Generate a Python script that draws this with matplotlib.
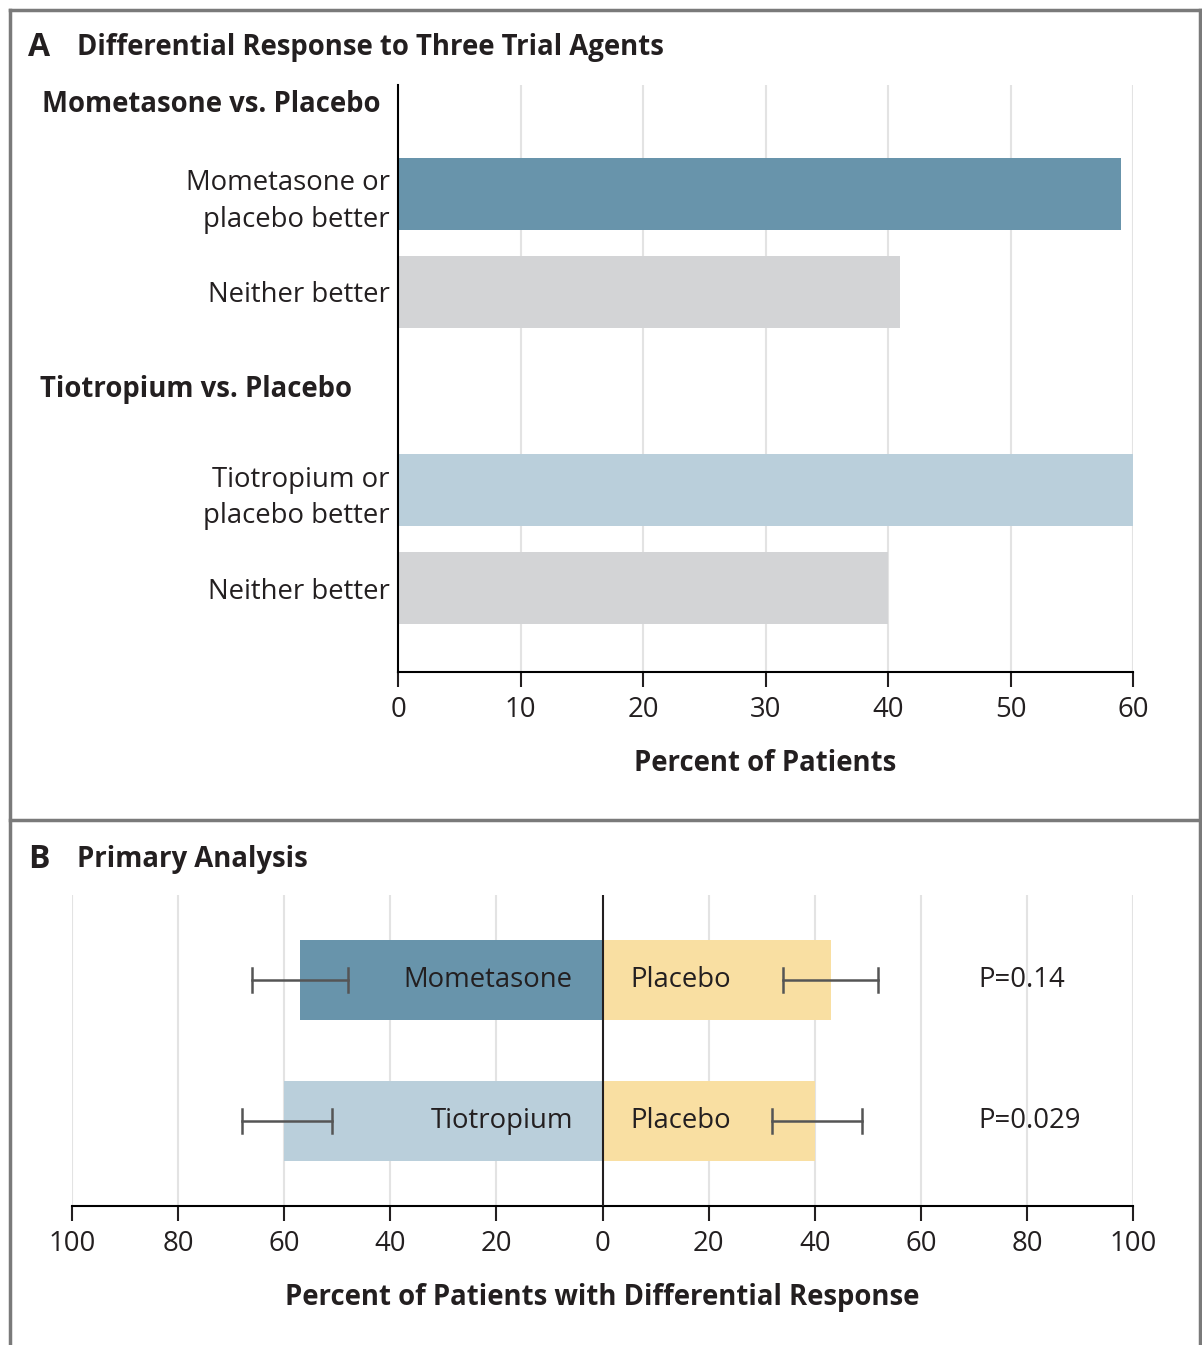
# Two-panel chart: differential response to trial agents (panel A) and primary analysis (panel B)

import matplotlib.pyplot as plt
import matplotlib.transforms as mtransforms
from matplotlib.lines import Line2D

plt.rcParams['font.family'] = ['Open Sans', 'DejaVu Sans']

# ---- data, panel A ----
a_groups = ['Mometasone vs. Placebo', 'Tiotropium vs. Placebo']
a_labels = ['Mometasone or\nplacebo better', 'Neither better',
            'Tiotropium or\nplacebo better', 'Neither better']
a_values = [59, 41, 60, 40]
a_ticks = [0, 10, 20, 30, 40, 50, 60]

# ---- data, panel B ----
b_drugs = ['Mometasone', 'Tiotropium']
b_drug_pct = [57, 60]
b_drug_lo = [48, 51]
b_drug_hi = [66, 68]
b_placebo_pct = [43, 40]
b_placebo_lo = [34, 32]
b_placebo_hi = [52, 49]
b_pvalues = ['P=0.14', 'P=0.029']
b_ticks = [-100, -80, -60, -40, -20, 0, 20, 40, 60, 80, 100]

dark_blue = '#6894ab'
light_blue = '#bacfdb'
grey_bar = '#d3d4d6'
yellow = '#f9dfa2'
grid_col = '#e3e3e3'
text_col = '#231f20'

W, H = 1202, 1345
fig = plt.figure(figsize=(W / 100, H / 100), dpi=100)


def fx(px):
    return px / W


def fy(py):
    return 1 - py / H


# frame round the two panels
frame = '#7a7a7a'
for xs, ys in [([10, 1200], [10, 10]), ([10, 10], [10, 1345]),
               ([1200, 1200], [10, 1345]), ([10, 1200], [820, 820])]:
    fig.add_artist(Line2D([fx(x) for x in xs], [fy(y) for y in ys],
                          color=frame, lw=2.5))

fs = 19.8     # regular text
fsb = 19.8    # bold headings
wb = 'bold'

# ---- panel A ----
axA = fig.add_axes([fx(398), fy(672), fx(1133) - fx(398), fy(85) - fy(672)])
a_pos = [4.878, 3.878, 1.857, 0.857]
a_head_pos = [5.796, 2.878]
a_colors = [dark_blue, grey_bar, light_blue, grey_bar]
axA.barh(a_pos, a_values, height=0.735, color=a_colors, zorder=2)
axA.set_xlim(0, 60)
axA.set_ylim(0, 5.99)
axA.set_xticks(a_ticks)
axA.set_yticks(a_pos)
axA.set_yticklabels(a_labels, fontsize=fs, color=text_col, ha='right',
                    linespacing=1.4)
axA.tick_params(axis='y', length=0, pad=6)
axA.tick_params(axis='x', labelsize=fs, colors=text_col, length=11,
                width=1.5, pad=6)
for t in a_ticks[1:]:
    axA.axvline(t, color=grid_col, lw=1.5, zorder=0)
axA.spines['top'].set_visible(False)
axA.spines['right'].set_visible(False)
axA.spines['left'].set_linewidth(1.5)
axA.spines['bottom'].set_linewidth(1.5)
axA.set_xlabel('Percent of Patients', fontsize=fsb, fontweight=wb,
               color=text_col, labelpad=18)
head_x = [42, 40]
head_tr = mtransforms.blended_transform_factory(fig.transFigure, axA.transData)
for name, yp, hx in zip(a_groups, a_head_pos, head_x):
    axA.text(fx(hx), yp, name, fontsize=fsb, fontweight=wb,
             color=text_col, ha='left', va='center', transform=head_tr)

fig.text(fx(28), fy(47), 'A', fontsize=23, fontweight='bold',
         color=text_col, va='center')
fig.text(fx(77), fy(47), 'Differential Response to Three Trial Agents',
         fontsize=fsb, fontweight=wb, color=text_col, va='center')

# ---- panel B ----
axB = fig.add_axes([fx(72), fy(1206), fx(1133) - fx(72), fy(895) - fy(1206)])
b_pos = [1.603, 0.603]
drug_colors = [dark_blue, light_blue]
for i in range(len(b_drugs)):
    axB.barh(b_pos[i], -b_drug_pct[i], height=0.567, color=drug_colors[i],
             zorder=2)
    axB.barh(b_pos[i], b_placebo_pct[i], height=0.567, color=yellow, zorder=2)
    axB.plot([-b_drug_lo[i], -b_drug_hi[i]], [b_pos[i], b_pos[i]],
             color='#555555', lw=1.8, zorder=3)
    axB.plot([b_placebo_lo[i], b_placebo_hi[i]], [b_pos[i], b_pos[i]],
             color='#555555', lw=1.8, zorder=3)
    for xv in [-b_drug_lo[i], -b_drug_hi[i], b_placebo_lo[i], b_placebo_hi[i]]:
        axB.plot([xv, xv], [b_pos[i] - 0.085, b_pos[i] + 0.085],
                 color='#555555', lw=1.8, zorder=3)
    axB.text(-5.6, b_pos[i], b_drugs[i], fontsize=fs, color=text_col,
             ha='right', va='center', zorder=4)
    axB.text(5.3, b_pos[i], 'Placebo', fontsize=fs, color=text_col,
             ha='left', va='center', zorder=4)
    axB.text(70.8, b_pos[i], b_pvalues[i], fontsize=fs, color=text_col,
             ha='left', va='center')
axB.axvline(0, color='#231f20', lw=1.5, zorder=5)
for t in b_ticks:
    if t != 0:
        axB.axvline(t, color=grid_col, lw=1.5, zorder=0)
axB.set_xlim(-100, 100)
axB.set_ylim(0, 2.206)
axB.set_xticks(b_ticks)
axB.set_xticklabels([str(abs(t)) for t in b_ticks])
axB.set_yticks([])
axB.tick_params(axis='x', labelsize=fs, colors=text_col, length=11,
                width=1.5, pad=6)
for s in ['top', 'right', 'left']:
    axB.spines[s].set_visible(False)
axB.spines['bottom'].set_linewidth(1.5)
axB.set_xlabel('Percent of Patients with Differential Response', fontsize=fsb,
               fontweight=wb, color=text_col, labelpad=18)

fig.text(fx(28), fy(859), 'B', fontsize=23, fontweight='bold',
         color=text_col, va='center')
fig.text(fx(77), fy(859), 'Primary Analysis', fontsize=fsb,
         fontweight=wb, color=text_col, va='center')

fig.savefig('out.png', dpi=100, facecolor='white')
